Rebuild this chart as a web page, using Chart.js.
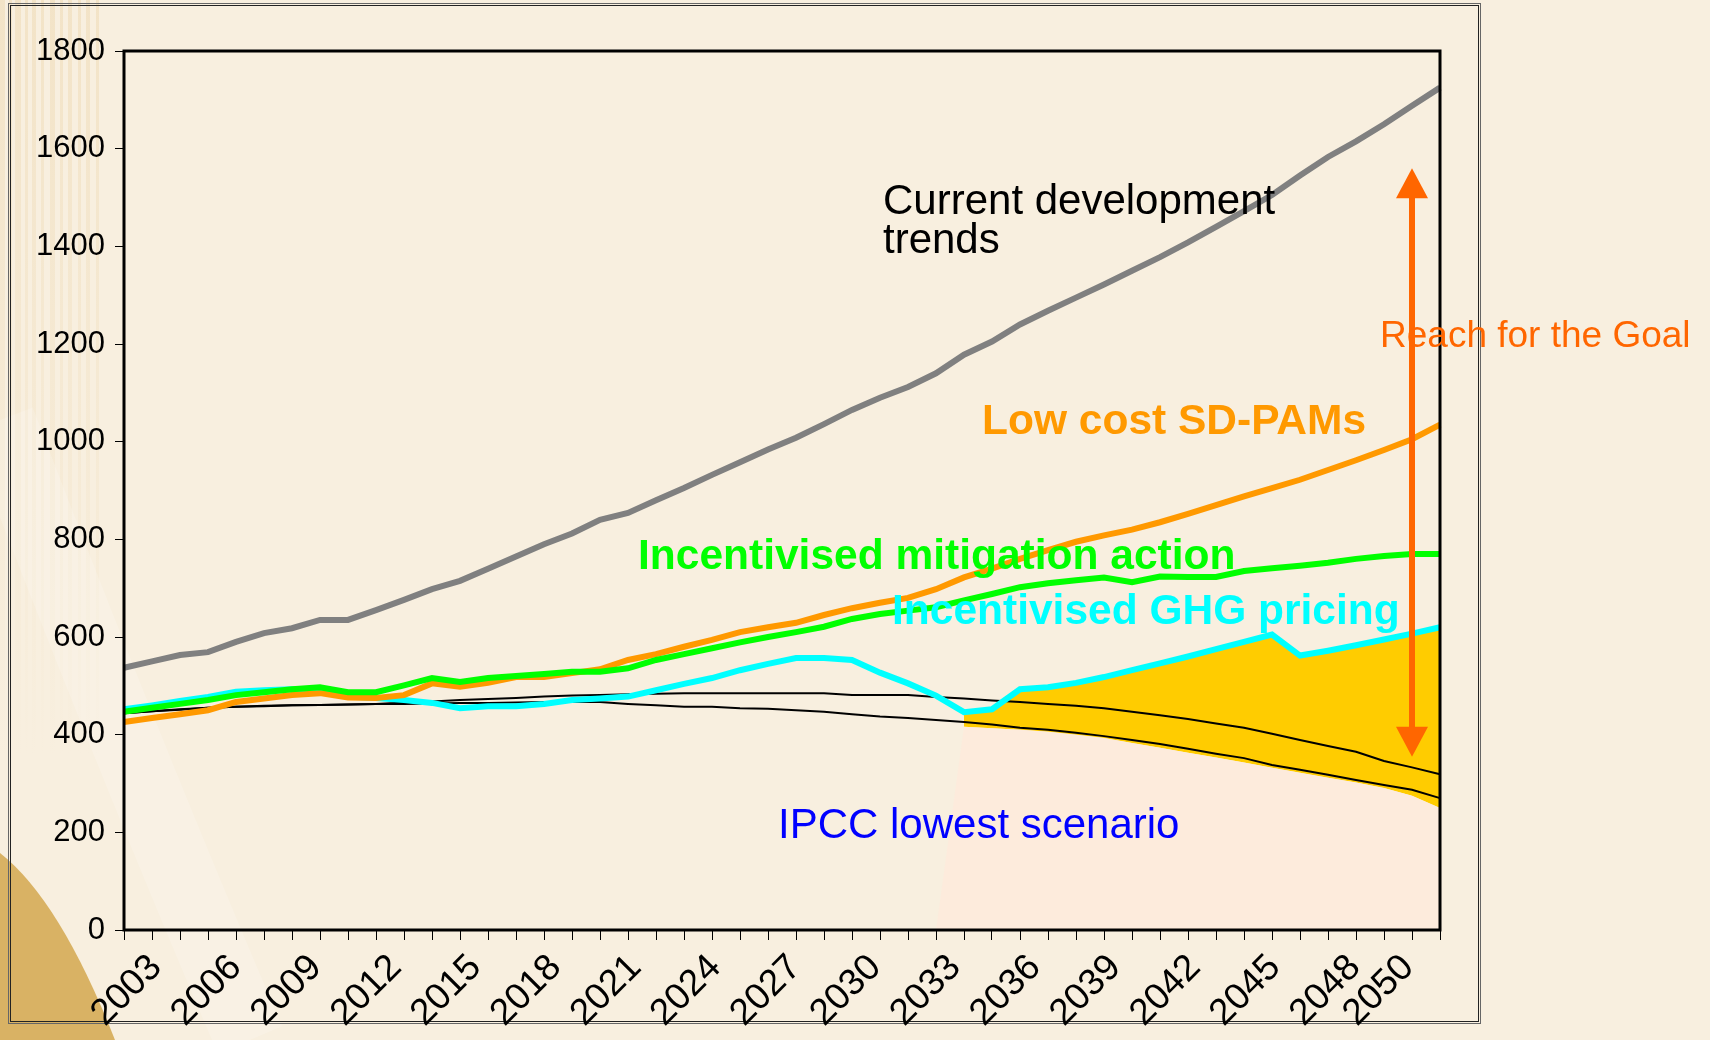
<!DOCTYPE html>
<html>
<head>
<meta charset="utf-8">
<script src="https://cdn.jsdelivr.net/npm/chart.js@4.4.1/dist/chart.umd.min.js"></script>
<style>
  html, body { margin: 0; padding: 0; background: #F8EFDF; overflow: hidden; }
  canvas { display: block; }
</style>
</head>
<body>
<canvas id="chart" width="1710" height="1040"></canvas>
<script>
// categories
var years = ['2003','2004','2005','2006','2007','2008','2009','2010','2011','2012',
  '2013','2014','2015','2016','2017','2018','2019','2020','2021','2022',
  '2023','2024','2025','2026','2027','2028','2029','2030','2031','2032',
  '2033','2034','2035','2036','2037','2038','2039','2040','2041','2042',
  '2043','2044','2045','2046','2047','2048','2049','2050'];

// tick labels
var yearLabels = [2003, 2006, 2009, 2012, 2015, 2018, 2021, 2024, 2027, 2030,
  2033, 2036, 2039, 2042, 2045, 2048, 2050];
var yTicks = [0, 200, 400, 600, 800, 1000, 1200, 1400, 1600, 1800];

// series
var currentTrends = [537,550,563,569,590,608,618,635,635,655,
  676,698,715,740,765,790,812,840,854,880,
  905,932,958,984,1008,1036,1065,1090,1112,1140,
  1178,1205,1240,1268,1295,1322,1350,1378,1408,1440,
  1472,1505,1545,1583,1615,1650,1688,1725];

var lowCostPams = [426,434,442,450,467,474,481,485,476,475,
  481,505,498,506,518,518,526,534,553,565,
  580,594,610,620,629,645,659,670,680,698,
  722,740,760,778,795,808,820,835,852,870,
  888,905,922,942,962,983,1005,1035];

var mitigationAction = [447,455,463,471,481,487,493,497,487,487,
  501,516,508,516,520,524,529,529,536,553,
  565,577,589,600,610,621,637,647,654,661,
  675,688,702,710,716,722,712,724,723,723,
  735,741,746,752,760,766,770,770];

var ghgPricing = [452,460,469,477,488,491,493,493,478,475,
  471,465,454,458,458,463,471,474,478,491,
  504,516,532,545,557,557,553,527,505,480,
  446,452,493,497,506,518,532,546,560,575,
  590,605,562,572,583,595,607,620];

var upperRef = [444,448,452,455,457,459,460,461,462,463,
  466,468,471,473,475,478,480,481,483,484,
  485,485,485,485,485,485,481,481,481,477,
  474,470,467,463,459,454,447,440,432,423,
  414,402,389,377,365,346,333,319];

var lowerRef = [444,448,451,455,457,458,460,461,462,463,
  463,464,465,465,466,467,467,467,463,460,
  457,457,454,453,450,447,442,437,434,430,
  426,421,414,410,404,397,389,381,371,361,
  352,338,328,318,307,297,287,270];

// IPCC lowest scenario band (bottom and top)
var ipccLow = [null,null,null,null,null,null,null,null,null,null,
  null,null,null,null,null,null,null,null,null,null,
  null,null,null,null,null,null,null,null,null,0,
  416,413,410,406,400,393,383,373,363,353,
  343,332,322,312,302,291,275,250];

var ipccHigh = [null,null,null,null,null,null,null,null,null,null,
  null,null,null,null,null,null,null,null,null,null,
  null,null,null,null,null,null,null,null,null,null,
  446,452,493,497,506,518,532,546,560,575,
  590,605,562,572,583,595,607,620];

// "Reach for the Goal" arrow, in data units
var arrowYear = '2049';
var arrowBottom = 355;
var arrowTop = 1560;

var FONT = '"Liberation Sans", Arial, Helvetica, sans-serif';

var backdrop = {
  id: 'backdrop',
  beforeDraw: function (chart) {
    var ctx = chart.ctx, W = chart.width, H = chart.height;
    ctx.save();
    ctx.fillStyle = '#F8EFDF';
    ctx.fillRect(0, 0, W, H);

    // faint vertical grain on the left
    var stripes = [[0,5],[9,3],[15,6],[25,3],[32,4],[41,3],[50,5],[60,3],[68,4],[78,3],[86,4],[96,3]];
    for (var i = 0; i < stripes.length; i++) {
      var g = ctx.createLinearGradient(0, 0, 0, 760);
      g.addColorStop(0, 'rgba(226,192,128,0.25)');
      g.addColorStop(1, 'rgba(226,192,128,0)');
      ctx.fillStyle = g;
      ctx.fillRect(stripes[i][0], 0, stripes[i][1], 760);
    }

    // light sweep
    ctx.strokeStyle = 'rgba(255,255,255,0.16)';
    ctx.lineWidth = 70;
    ctx.beginPath();
    ctx.moveTo(0, 420);
    ctx.quadraticCurveTo(130, 760, 250, 1040);
    ctx.stroke();

    // tan corner
    ctx.fillStyle = '#D9B264';
    ctx.beginPath();
    ctx.moveTo(0, 853);
    ctx.quadraticCurveTo(60, 900, 115, 1040);
    ctx.lineTo(0, 1040);
    ctx.closePath();
    ctx.fill();

    // double frame
    ctx.lineWidth = 1;
    ctx.strokeStyle = '#666';
    ctx.strokeRect(8.5, 3.5, 1472, 1020);
    ctx.strokeStyle = '#222';
    ctx.strokeRect(10.5, 5.5, 1468, 1016);
    ctx.restore();
  }
};

var annotations = {
  id: 'annotations',
  afterDatasetsDraw: function (chart) {
    var ctx = chart.ctx, a = chart.chartArea;
    ctx.save();
    ctx.strokeStyle = '#000';
    ctx.lineWidth = 3;
    ctx.strokeRect(a.left, a.top, a.right - a.left, a.bottom - a.top);
    ctx.restore();
  },
  afterDraw: function (chart) {
    var ctx = chart.ctx;
    var xs = chart.scales.x, ys = chart.scales.y;
    ctx.save();

    // double headed arrow
    var ax = xs.getPixelForValue(years.indexOf(arrowYear));
    var y1 = ys.getPixelForValue(arrowTop);
    var y2 = ys.getPixelForValue(arrowBottom);
    var hh = 30, hw = 16;
    ctx.strokeStyle = '#FF6600';
    ctx.fillStyle = '#FF6600';
    ctx.lineWidth = 6;
    ctx.beginPath();
    ctx.moveTo(ax, y1 + hh - 2);
    ctx.lineTo(ax, y2 - hh + 2);
    ctx.stroke();
    ctx.beginPath();
    ctx.moveTo(ax, y1);
    ctx.lineTo(ax - hw, y1 + hh);
    ctx.lineTo(ax + hw, y1 + hh);
    ctx.closePath();
    ctx.fill();
    ctx.beginPath();
    ctx.moveTo(ax, y2);
    ctx.lineTo(ax - hw, y2 - hh);
    ctx.lineTo(ax + hw, y2 - hh);
    ctx.closePath();
    ctx.fill();

    ctx.textBaseline = 'alphabetic';
    ctx.textAlign = 'left';

    ctx.font = '42px ' + FONT;
    ctx.fillStyle = '#000000';
    ctx.fillText('Current development', 883, 214);
    ctx.fillText('trends', 883, 253);

    ctx.font = 'bold 42.5px ' + FONT;
    ctx.fillStyle = '#FF9900';
    ctx.fillText('Low cost SD-PAMs', 982, 434);
    ctx.fillStyle = '#00FF00';
    ctx.fillText('Incentivised mitigation action', 638, 569);
    ctx.fillStyle = '#00FFFF';
    ctx.fillText('Incentivised GHG pricing', 892, 624);

    ctx.font = '42px ' + FONT;
    ctx.fillStyle = '#0000FF';
    ctx.fillText('IPCC lowest scenario', 778, 838);

    ctx.font = '37px ' + FONT;
    ctx.fillStyle = '#FF6600';
    ctx.fillText('Reach for the Goal', 1380, 347);
    ctx.restore();
  }
};

function lineSet(label, data, color, width) {
  return {
    label: label,
    data: data,
    borderColor: color,
    backgroundColor: color,
    borderWidth: width,
    pointRadius: 0,
    tension: 0,
    fill: false
  };
}

var chart = new Chart(document.getElementById('chart'), {
  type: 'line',
  data: {
    labels: years,
    datasets: [
      lineSet('Current development trends', currentTrends, '#808080', 6),
      lineSet('Incentivised mitigation action', mitigationAction, '#00FF00', 6),
      lineSet('Low cost SD-PAMs', lowCostPams, '#FF9900', 6),
      lineSet('Incentivised GHG pricing', ghgPricing, '#00FFFF', 6),
      lineSet('Reference upper', upperRef, '#000000', 2),
      lineSet('Reference lower', lowerRef, '#000000', 2),
      {
        label: 'IPCC lowest scenario',
        data: ipccLow,
        borderWidth: 0,
        borderColor: 'rgba(0,0,0,0)',
        backgroundColor: '#FDEBDC',
        pointRadius: 0,
        tension: 0,
        fill: 'origin'
      },
      {
        label: 'IPCC band',
        data: ipccHigh,
        borderWidth: 0,
        borderColor: 'rgba(0,0,0,0)',
        backgroundColor: '#FFCC00',
        pointRadius: 0,
        tension: 0,
        fill: '-1'
      }
    ]
  },
  options: {
    responsive: false,
    devicePixelRatio: 1,
    animation: false,
    events: [],
    layout: { padding: { left: 14, top: 51, right: 270, bottom: 10 } },
    plugins: {
      legend: { display: false },
      tooltip: { enabled: false }
    },
    scales: {
      // yearly category axis: carries the data and the tick marks
      x: {
        type: 'category',
        offset: false,
        weight: 0,
        afterFit: function (s) { s.height = 10; },
        grid: { drawOnChartArea: false, drawTicks: true, tickLength: 10, color: '#000', lineWidth: 1 },
        border: { display: false },
        ticks: { display: false, autoSkip: false }
      },
      // year labels, spaced like the original's label row
      xYear: {
        type: 'linear',
        position: 'bottom',
        weight: 1,
        min: 2001.8,
        max: 2051.2,
        afterFit: function (s) { s.height = 90; },
        afterBuildTicks: function (s) { s.ticks = yearLabels.map(function (v) { return { value: v }; }); },
        grid: { display: false, drawTicks: false, drawOnChartArea: false },
        border: { display: false },
        ticks: {
          autoSkip: false,
          minRotation: 45,
          maxRotation: 45,
          padding: 6,
          color: '#000',
          font: { family: FONT, size: 37 },
          callback: function (v) { return String(v); }
        }
      },
      y: {
        min: 0,
        max: 1800,
        afterFit: function (s) { s.width = 110; },
        afterBuildTicks: function (s) { s.ticks = yTicks.map(function (v) { return { value: v }; }); },
        grid: { drawOnChartArea: false, drawTicks: true, tickLength: 9, color: '#000', lineWidth: 1 },
        border: { display: false },
        ticks: {
          padding: 10,
          color: '#000',
          font: { family: FONT, size: 31 },
          callback: function (v) { return String(v); }
        }
      }
    }
  },
  plugins: [backdrop, annotations]
});
</script>
</body>
</html>
